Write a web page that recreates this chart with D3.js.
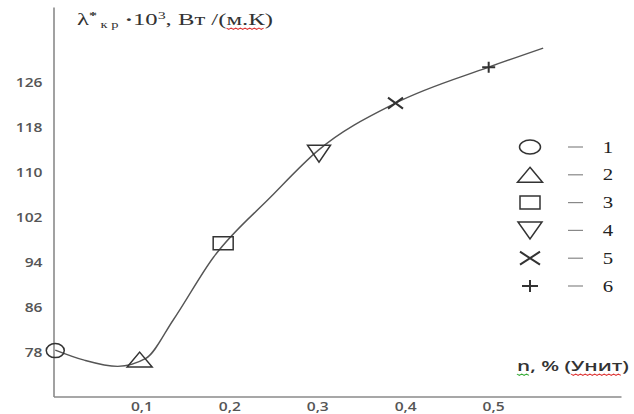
<!DOCTYPE html>
<html>
<head>
<meta charset="utf-8">
<script src="https://cdn.jsdelivr.net/npm/d3@7"></script>
<style>
  html, body { margin: 0; padding: 0; background: #fff; }
  svg { display: block; }
</style>
</head>
<body>
<svg id="chart" width="634" height="414"></svg>
<script>
// Concentration n, % (x) and effective thermal conductivity λ*кр·10³ (y)
const curveN   = [0.002, 0.035, 0.073, 0.105, 0.136, 0.182, 0.247, 0.301, 0.389, 0.495, 0.557];
const curveVal = [78.4, 76.6, 75.5, 76.9, 83.7, 94.9, 105.6, 113.9, 122.3, 128.7, 132.1];

// Measured samples 1–6
const sampleIds  = ["1", "2", "3", "4", "5", "6"];
const sampleKind = ["circle", "triangle", "square", "triangleDown", "cross", "plus"];
const sampleN    = [0.002, 0.098, 0.193, 0.302, 0.389, 0.495];
const sampleVal  = [78.3, 76.7, 97.4, 113.3, 122.3, 128.7];

const xTicks = [0.1, 0.2, 0.3, 0.4, 0.5];
const xTickLabels = ["0,1", "0,2", "0,3", "0,4", "0,5"];
const yTicks = [78, 86, 94, 102, 110, 118, 126];

const SX = 1.3; // horizontal stretch of tick labels and legend numbers

const svg = d3.select("#chart");

const x = d3.scaleLinear().domain([0, 0.6455]).range([53.5, 621]);
const y = d3.scaleLinear().domain([70.14, 139.4]).range([396.5, 7]);

// symbol outlines of a given width/height, centred at 0,0
function shape(kind, w, h) {
  const a = w / 2, b = h / 2;
  switch (kind) {
    case "circle": return `M${-a},0A${a},${b} 0 1,0 ${a},0A${a},${b} 0 1,0 ${-a},0Z`;
    case "triangle": return `M0,${-b}L${a},${b}L${-a},${b}Z`;
    case "triangleDown": return `M${-a},${-b}L${a},${-b}L0,${b}Z`;
    case "square": return `M${-a},${-b}H${a}V${b}H${-a}Z`;
    case "cross": return `M${-a},${-b}L${a},${b}M${a},${-b}L${-a},${b}`;
    case "plus": return `M${-a},0H${a}M0,${-b}V${b}`;
  }
}
const plotSize = {
  circle: [18, 14], triangle: [25, 15], square: [20, 13],
  triangleDown: [23, 17], cross: [15, 11], plus: [13, 11]
};
const legendSize = {
  circle: [21, 14], triangle: [25, 15], square: [20, 13],
  triangleDown: [24, 17], cross: [20, 13], plus: [16, 12]
};

// axes
const tickFont = "'Open Sans', 'DejaVu Sans', sans-serif";
const yAxis = svg.append("g")
  .attr("transform", `translate(${x(0)},0)`)
  .call(d3.axisLeft(y).tickValues(yTicks).tickSizeInner(0).tickSizeOuter(0).tickPadding(0));
const xAxis = svg.append("g")
  .attr("transform", `translate(0,${y(70.14)})`)
  .call(d3.axisBottom(x).tickValues(xTicks).tickFormat((d, i) => xTickLabels[i])
        .tickSizeInner(0).tickSizeOuter(0).tickPadding(6));

[yAxis, xAxis].forEach(g => {
  g.select(".domain").attr("stroke", "#8a8a8a").attr("stroke-width", 1.6);
  g.selectAll("text")
    .attr("font-family", tickFont)
    .attr("font-size", 12)
    .attr("font-weight", 600)
    .attr("fill", "#555");
});
yAxis.selectAll("text").attr("x", -11 / SX).attr("transform", `scale(${SX},1)`);
xAxis.selectAll("text").attr("transform", `scale(${SX},1)`);

// curve
const line = d3.line()
  .x(d => x(d[0]))
  .y(d => y(d[1]))
  .curve(d3.curveMonotoneX);
svg.append("path")
  .datum(curveN.map((n, i) => [n, curveVal[i]]))
  .attr("d", line)
  .attr("fill", "none")
  .attr("stroke", "#555")
  .attr("stroke-width", 1.4);

// sample markers
svg.append("g")
  .selectAll("path")
  .data(sampleIds.map((id, i) => ({ kind: sampleKind[i], n: sampleN[i], v: sampleVal[i] })))
  .join("path")
  .attr("transform", d => `translate(${x(d.n)},${y(d.v)})`)
  .attr("d", d => shape(d.kind, ...plotSize[d.kind]))
  .attr("fill", "none")
  .attr("stroke", "#333")
  .attr("stroke-width", d => (d.kind === "cross" || d.kind === "plus") ? 2 : 1.5);

// legend
const legendTop = 147, legendStep = 27.8;
const legend = svg.append("g")
  .selectAll("g")
  .data(sampleIds.map((id, i) => ({ id, kind: sampleKind[i] })))
  .join("g")
  .attr("transform", (d, i) => `translate(530,${legendTop + i * legendStep})`);
legend.append("path")
  .attr("d", d => shape(d.kind, ...legendSize[d.kind]))
  .attr("fill", "none")
  .attr("stroke", "#333")
  .attr("stroke-width", d => (d.kind === "cross" || d.kind === "plus") ? 2 : 1.5);
legend.append("line")
  .attr("x1", 38).attr("x2", 53).attr("y1", 0).attr("y2", 0)
  .attr("stroke", "#888").attr("stroke-width", 1.2);
legend.append("text")
  .attr("transform", `translate(78,0) scale(${SX},1)`)
  .attr("dy", "0.35em")
  .attr("text-anchor", "middle")
  .attr("font-family", "'Liberation Serif', 'Times New Roman', serif")
  .attr("font-size", 16)
  .attr("fill", "#222")
  .text(d => d.id);

// wavy underline below characters [from, to) of a text element
function squiggle(g, textEl, from, to, yOff, color) {
  const x0 = textEl.getStartPositionOfChar(from).x;
  const x1 = textEl.getEndPositionOfChar(to - 1).x;
  const step = 1.6;
  let d = `M${x0},${yOff}`;
  for (let xx = x0 + step, k = 1; xx <= x1; xx += step, k++) {
    d += `L${xx},${yOff + (k % 2 ? 1.4 : 0)}`;
  }
  g.append("path").attr("d", d).attr("fill", "none")
    .attr("stroke", color).attr("stroke-width", 0.9);
}

// stretch a text group horizontally so the text spans the given width
function fitWidth(g, textEl, left, baseline, width) {
  const w = textEl.getComputedTextLength();
  g.attr("transform", `translate(${left},${baseline}) scale(${width / w},1)`);
}

// y-axis title
const yTitleG = svg.append("g");
const yTitle = yTitleG.append("text")
  .attr("font-family", "'Liberation Serif', 'Times New Roman', serif")
  .attr("font-size", 17)
  .attr("fill", "#333");
yTitle.append("tspan").text("λ");
yTitle.append("tspan").attr("dy", -6).attr("font-size", 11).attr("font-weight", 700).text("*");
yTitle.append("tspan").attr("dy", 9).attr("font-size", 10).text(" к р");
yTitle.append("tspan").attr("dy", -3).attr("font-weight", 700).text(" ·");
yTitle.append("tspan").text("10");
yTitle.append("tspan").attr("dy", -6).attr("font-size", 11).text("3");
yTitle.append("tspan").attr("dy", 6).text(", Вт /(м.К)");
fitWidth(yTitleG, yTitle.node(), 77, 25, 196);
{
  const s = yTitle.text();
  const i0 = s.indexOf("(м.К)");
  squiggle(yTitleG, yTitle.node(), i0 + 1, i0 + 4, 3, "#d33");
}

// x-axis title
const xTitleG = svg.append("g");
const xTitle = xTitleG.append("text")
  .attr("font-family", tickFont)
  .attr("font-size", 14)
  .attr("font-weight", 600)
  .attr("fill", "#333")
  .text("n, % (Унит)");
fitWidth(xTitleG, xTitle.node(), 517, 371, 112);
{
  const s = xTitle.text();
  squiggle(xTitleG, xTitle.node(), 0, 1, 3, "#3a3");
  const i0 = s.indexOf("Унит");
  squiggle(xTitleG, xTitle.node(), i0, i0 + 4, 3, "#d33");
}
</script>
</body>
</html>
